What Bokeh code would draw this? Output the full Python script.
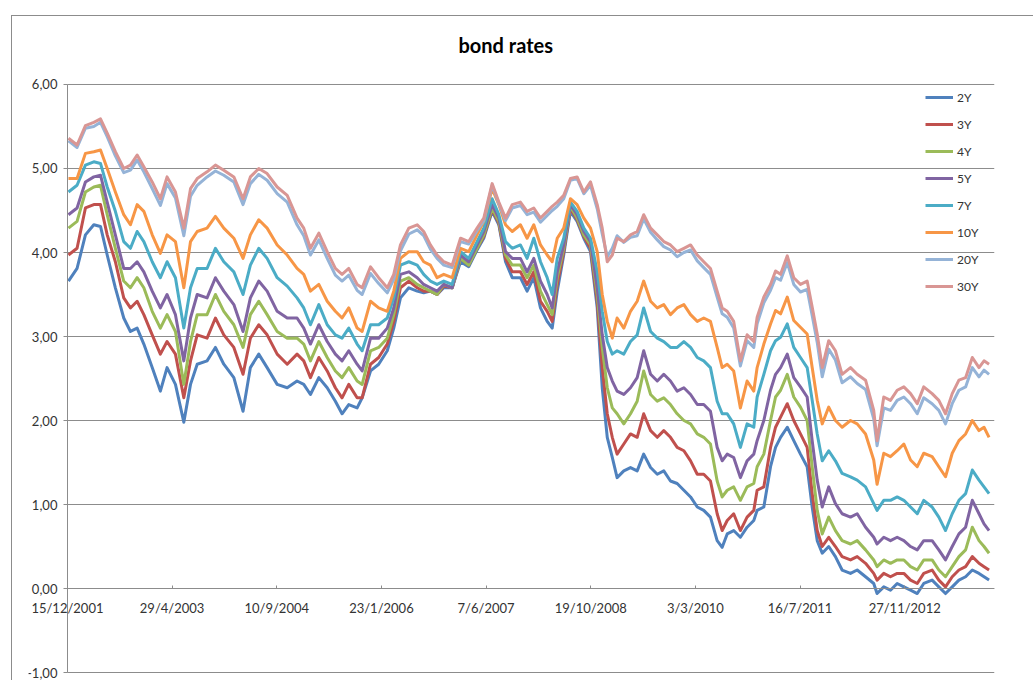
from bokeh.plotting import figure
from bokeh.models import FixedTicker, Legend, LegendItem, LabelSet, ColumnDataSource
from bokeh.core.properties import value
from bokeh.embed import file_html
from bokeh.resources import INLINE

# Category positions (calendar days counted from 15/12/2001)
days = [
    5, 46, 86, 126, 158, 190, 229, 269, 301, 333, 365, 405, 444, 476, 516, 556,
    588, 620, 667, 707, 747, 795, 839, 874, 914, 954, 1002, 1050,
    1097, 1129, 1161, 1201, 1241, 1280, 1312, 1344, 1384, 1408, 1448, 1487,
    1528, 1559, 1591, 1631, 1671, 1702, 1734, 1766, 1798, 1838, 1878, 1917,
    1957, 1989, 2029, 2061, 2093, 2125, 2164, 2196,
    2228, 2260, 2292, 2316, 2340, 2371, 2403, 2435, 2467, 2499, 2531, 2555,
    2579, 2603, 2626, 2658, 2690, 2722, 2753, 2786, 2818, 2849, 2881, 2913,
    2945, 2977, 3009, 3040, 3072, 3104, 3128, 3152, 3183, 3215, 3247, 3279,
    3295, 3327, 3359, 3383, 3407, 3439, 3470, 3502, 3534, 3558, 3582, 3606,
    3637, 3669, 3701, 3741, 3773, 3813, 3852, 3868, 3900, 3932, 3964, 3996,
    4028, 4060, 4091, 4131, 4163, 4195, 4227, 4259, 4291, 4323, 4355, 4379, 4403,
]

rate_2y = [
    3.66, 3.81, 4.21, 4.33, 4.31, 3.97, 3.58, 3.22, 3.06, 3.10, 2.91, 2.63, 2.35, 2.63,
    2.43, 1.98, 2.43, 2.67, 2.71, 2.87, 2.67, 2.51, 2.11, 2.63, 2.79, 2.63, 2.43, 2.39,
    2.47, 2.43, 2.31, 2.51, 2.39, 2.23, 2.08, 2.19, 2.15, 2.27, 2.59, 2.67, 2.83, 3.10,
    3.46, 3.58, 3.54, 3.52, 3.54, 3.50, 3.58, 3.58, 3.89, 3.83, 4.03, 4.17, 4.49, 4.33,
    3.89, 3.70, 3.70, 3.54,
    3.70, 3.34, 3.18, 3.10, 3.54, 3.97, 4.49, 4.37, 4.17, 4.01, 3.34, 2.39, 1.80, 1.56,
    1.32, 1.40, 1.44, 1.40, 1.60, 1.44, 1.36, 1.40, 1.28, 1.25, 1.17, 1.09, 0.97, 0.93,
    0.85, 0.57, 0.49, 0.65, 0.69, 0.61, 0.73, 0.81,
    0.93, 0.97, 1.45, 1.68, 1.80, 1.92, 1.76, 1.60, 1.45, 0.97, 0.57, 0.42, 0.50, 0.38,
    0.22, 0.18, 0.22, 0.14, 0.06, -0.06, 0.02, -0.02, 0.06, 0.02, -0.02, -0.06, 0.06,
    0.10, 0.02, -0.06, 0.02, 0.10, 0.14, 0.22, 0.18, 0.14, 0.10,
]

rate_3y = [
    3.97, 4.05, 4.53, 4.57, 4.57, 4.21, 3.89, 3.46, 3.34, 3.42, 3.26, 3.02, 2.79, 2.94,
    2.79, 2.27, 2.71, 3.02, 2.98, 3.22, 3.02, 2.87, 2.55, 2.98, 3.14, 3.02, 2.79, 2.67,
    2.79, 2.71, 2.51, 2.75, 2.59, 2.39, 2.27, 2.43, 2.27, 2.27, 2.67, 2.75, 2.91, 3.18,
    3.58, 3.66, 3.58, 3.54, 3.54, 3.50, 3.60, 3.58, 3.93, 3.85, 4.05, 4.19, 4.51, 4.35,
    3.93, 3.77, 3.77, 3.62,
    3.77, 3.42, 3.30, 3.18, 3.62, 4.01, 4.53, 4.39, 4.19, 4.05, 3.42, 2.63, 2.08, 1.80,
    1.60, 1.72, 1.84, 1.80, 2.08, 1.88, 1.80, 1.88, 1.80, 1.68, 1.64, 1.52, 1.36, 1.36,
    1.28, 0.89, 0.69, 0.81, 0.89, 0.69, 0.85, 0.93,
    1.17, 1.21, 1.68, 1.92, 2.04, 2.20, 2.00, 1.84, 1.68, 1.13, 0.69, 0.50, 0.61, 0.50,
    0.38, 0.34, 0.38, 0.30, 0.18, 0.10, 0.18, 0.14, 0.18, 0.18, 0.10, 0.06, 0.18,
    0.22, 0.10, 0.02, 0.14, 0.22, 0.26, 0.38, 0.30, 0.26, 0.22,
]

rate_4y = [
    4.29, 4.37, 4.72, 4.78, 4.80, 4.45, 4.05, 3.66, 3.58, 3.70, 3.58, 3.30, 3.10, 3.26,
    3.06, 2.43, 2.94, 3.26, 3.26, 3.50, 3.30, 3.14, 2.87, 3.26, 3.42, 3.26, 3.06, 2.98,
    2.98, 2.91, 2.71, 2.94, 2.75, 2.59, 2.51, 2.63, 2.47, 2.43, 2.83, 2.87, 2.98, 3.26,
    3.66, 3.70, 3.62, 3.58, 3.54, 3.50, 3.62, 3.58, 3.93, 3.85, 4.05, 4.21, 4.53, 4.37,
    3.97, 3.85, 3.85, 3.70,
    3.85, 3.54, 3.38, 3.26, 3.70, 4.05, 4.55, 4.41, 4.21, 4.09, 3.50, 2.87, 2.39, 2.15,
    2.08, 1.96, 2.08, 2.23, 2.59, 2.31, 2.23, 2.27, 2.19, 2.08, 2.00, 1.96, 1.84, 1.80,
    1.72, 1.28, 1.09, 1.17, 1.21, 1.05, 1.21, 1.25,
    1.45, 1.60, 2.00, 2.28, 2.36, 2.55, 2.28, 2.16, 2.00, 1.45, 0.93, 0.65, 0.85, 0.69,
    0.57, 0.53, 0.57, 0.46, 0.34, 0.26, 0.34, 0.30, 0.34, 0.34, 0.26, 0.22, 0.34,
    0.34, 0.22, 0.14, 0.26, 0.38, 0.46, 0.73, 0.57, 0.50, 0.42,
]

rate_5y = [
    4.45, 4.53, 4.84, 4.90, 4.92, 4.60, 4.21, 3.81, 3.81, 3.89, 3.77, 3.54, 3.34, 3.50,
    3.26, 2.71, 3.22, 3.50, 3.46, 3.70, 3.54, 3.38, 3.06, 3.46, 3.66, 3.54, 3.30, 3.22,
    3.22, 3.10, 2.91, 3.14, 2.94, 2.79, 2.71, 2.83, 2.67, 2.59, 2.98, 2.98, 3.10, 3.34,
    3.74, 3.77, 3.70, 3.62, 3.58, 3.54, 3.62, 3.58, 3.97, 3.89, 4.09, 4.25, 4.57, 4.41,
    4.01, 3.93, 3.93, 3.77,
    3.93, 3.66, 3.50, 3.34, 3.77, 4.09, 4.57, 4.45, 4.25, 4.13, 3.58, 3.02, 2.63, 2.47,
    2.35, 2.31, 2.39, 2.51, 2.83, 2.55, 2.47, 2.55, 2.47, 2.35, 2.39, 2.31, 2.19, 2.19,
    2.11, 1.68, 1.52, 1.60, 1.56, 1.32, 1.52, 1.60,
    1.76, 2.00, 2.36, 2.55, 2.63, 2.79, 2.51, 2.40, 2.28, 1.76, 1.29, 0.97, 1.21, 1.01,
    0.89, 0.85, 0.89, 0.73, 0.61, 0.53, 0.61, 0.57, 0.61, 0.57, 0.50, 0.46, 0.57,
    0.57, 0.46, 0.34, 0.50, 0.65, 0.73, 1.05, 0.89, 0.77, 0.69,
]

rate_7y = [
    4.72, 4.80, 5.04, 5.08, 5.06, 4.78, 4.49, 4.13, 4.05, 4.25, 4.13, 3.89, 3.70, 3.89,
    3.70, 3.10, 3.58, 3.81, 3.81, 4.05, 3.89, 3.77, 3.50, 3.85, 4.05, 3.93, 3.70, 3.60,
    3.46, 3.34, 3.14, 3.38, 3.14, 3.02, 2.98, 3.10, 2.91, 2.83, 3.14, 3.14, 3.22, 3.46,
    3.85, 3.89, 3.85, 3.74, 3.66, 3.62, 3.66, 3.62, 4.01, 3.93, 4.13, 4.29, 4.64, 4.45,
    4.13, 4.05, 4.09, 3.93,
    4.17, 3.89, 3.70, 3.50, 3.93, 4.17, 4.60, 4.49, 4.29, 4.17, 3.77, 3.30, 2.94, 2.79,
    2.83, 2.79, 2.94, 3.02, 3.34, 3.06, 2.98, 2.94, 2.87, 2.87, 2.94, 2.87, 2.75, 2.71,
    2.63, 2.23, 2.08, 2.08, 1.96, 1.68, 1.96, 1.92,
    2.28, 2.55, 2.83, 2.95, 2.99, 3.15, 2.87, 2.75, 2.63, 2.24, 1.84, 1.52, 1.64, 1.52,
    1.37, 1.33, 1.29, 1.21, 1.01, 0.93, 1.05, 1.05, 1.09, 1.05, 0.97, 0.89, 1.05,
    0.97, 0.85, 0.69, 0.89, 1.05, 1.13, 1.41, 1.29, 1.21, 1.13,
]

rate_10y = [
    4.88, 4.88, 5.18, 5.20, 5.22, 5.00, 4.72, 4.45, 4.33, 4.57, 4.49, 4.21, 3.99, 4.21,
    4.13, 3.58, 4.13, 4.25, 4.29, 4.43, 4.29, 4.17, 3.93, 4.21, 4.39, 4.29, 4.09, 3.97,
    3.81, 3.74, 3.54, 3.62, 3.42, 3.30, 3.22, 3.34, 3.10, 3.06, 3.42, 3.34, 3.30, 3.54,
    3.93, 4.01, 4.01, 3.89, 3.85, 3.70, 3.74, 3.70, 4.05, 4.01, 4.21, 4.37, 4.76, 4.57,
    4.33, 4.25, 4.33, 4.17,
    4.33, 4.09, 3.97, 3.89, 4.17, 4.29, 4.64, 4.57, 4.41, 4.29, 4.01, 3.50, 3.18, 2.98,
    3.22, 3.10, 3.30, 3.42, 3.66, 3.42, 3.34, 3.38, 3.26, 3.34, 3.38, 3.26, 3.18, 3.22,
    3.18, 2.87, 2.63, 2.67, 2.59, 2.15, 2.47, 2.35,
    2.63, 2.91, 3.15, 3.31, 3.27, 3.47, 3.19, 3.11, 3.03, 2.63, 2.24, 1.96, 2.16, 2.00,
    1.92, 2.00, 1.96, 1.84, 1.53, 1.24, 1.61, 1.57, 1.64, 1.72, 1.53, 1.45, 1.61,
    1.57, 1.45, 1.33, 1.61, 1.76, 1.84, 2.00, 1.88, 1.92, 1.80,
]

rate_20y = [
    5.33, 5.25, 5.48, 5.50, 5.55, 5.38, 5.15, 4.95, 4.98, 5.10, 4.96, 4.76, 4.56, 4.82,
    4.65, 4.20, 4.67, 4.80, 4.90, 4.97, 4.92, 4.84, 4.57, 4.82, 4.93, 4.86, 4.70, 4.60,
    4.33, 4.20, 3.97, 4.15, 3.93, 3.73, 3.66, 3.73, 3.55, 3.50, 3.75, 3.63, 3.52, 3.68,
    4.02, 4.22, 4.27, 4.20, 4.04, 3.93, 3.85, 3.82, 4.13, 4.10, 4.26, 4.38, 4.80, 4.58,
    4.38, 4.53, 4.56, 4.45,
    4.48, 4.36, 4.44, 4.50, 4.55, 4.64, 4.86, 4.88, 4.70, 4.80, 4.52, 4.22, 3.95, 4.05,
    4.20, 4.12, 4.18, 4.20, 4.40, 4.24, 4.15, 4.07, 4.03, 3.95, 4.00, 4.03, 3.90, 3.82,
    3.74, 3.47, 3.27, 3.23, 3.10, 2.65, 2.95, 2.87,
    3.15, 3.40, 3.55, 3.70, 3.67, 3.88, 3.62, 3.53, 3.56, 3.25, 2.93, 2.52, 2.85, 2.72,
    2.45, 2.52, 2.44, 2.37, 2.02, 1.70, 2.15, 2.12, 2.24, 2.28, 2.20, 2.08, 2.27,
    2.20, 2.12, 1.96, 2.20, 2.36, 2.40, 2.63, 2.52, 2.60, 2.55,
]

rate_30y = [
    5.36, 5.28, 5.51, 5.55, 5.59, 5.42, 5.20, 5.00, 5.04, 5.16, 5.02, 4.84, 4.64, 4.90,
    4.72, 4.29, 4.76, 4.88, 4.96, 5.04, 4.98, 4.90, 4.64, 4.90, 5.00, 4.94, 4.78, 4.68,
    4.41, 4.29, 4.05, 4.23, 4.01, 3.81, 3.74, 3.81, 3.62, 3.58, 3.83, 3.70, 3.58, 3.74,
    4.09, 4.29, 4.33, 4.25, 4.09, 3.97, 3.89, 3.85, 4.17, 4.13, 4.29, 4.41, 4.82, 4.60,
    4.41, 4.57, 4.60, 4.49,
    4.53, 4.41, 4.49, 4.55, 4.60, 4.68, 4.88, 4.90, 4.72, 4.84, 4.57, 4.29, 3.89, 3.97,
    4.17, 4.13, 4.21, 4.25, 4.45, 4.29, 4.21, 4.13, 4.09, 4.01, 4.05, 4.09, 3.97, 3.89,
    3.81, 3.54, 3.34, 3.30, 3.18, 2.71, 3.02, 2.94,
    3.23, 3.47, 3.62, 3.78, 3.74, 3.96, 3.70, 3.62, 3.66, 3.35, 3.03, 2.63, 2.95, 2.83,
    2.55, 2.63, 2.55, 2.48, 2.12, 1.76, 2.28, 2.24, 2.36, 2.40, 2.32, 2.20, 2.40,
    2.32, 2.24, 2.08, 2.32, 2.48, 2.51, 2.75, 2.63, 2.71, 2.67,
]

series_names = ["2Y", "3Y", "4Y", "5Y", "7Y", "10Y", "20Y", "30Y"]
series_values = [rate_2y, rate_3y, rate_4y, rate_5y, rate_7y, rate_10y, rate_20y, rate_30y]
series_colors = ["#4F81BD", "#C0504D", "#9BBB59", "#8064A2",
                 "#4BACC6", "#F79646", "#95B3D7", "#D99694"]

tick_days = [0, 500, 1000, 1500, 2000, 2500, 3000, 3500, 4000]
tick_labels = ["15/12/2001", "29/4/2003", "10/9/2004", "23/1/2006", "7/6/2007",
               "19/10/2008", "3/3/2010", "16/7/2011", "27/11/2012"]
y_ticks = [-1, 0, 1, 2, 3, 4, 5, 6]
y_tick_labels = ["-1,00", "0,00", "1,00", "2,00", "3,00", "4,00", "5,00", "6,00"]

for vals in series_values:
    assert len(vals) == len(days)

FONT = "Lato"
TEXT = "#333333"
GRID = "#8c8c8c"
X_END = 4429

# The frame reaches a little beyond the axes on the left, top and bottom so that
# the value labels and the first date label are drawn whole inside it.
p = figure(width=1022, height=665, x_range=(-186, X_END), y_range=(-1.107, 6.119),
           output_backend="svg", toolbar_location=None,
           min_border_left=16, min_border_right=40, min_border_top=58, min_border_bottom=0)
p.margin = (15, 0, 0, 11)
p.styles = {"border-top": "1px solid #8c8c8c", "border-left": "1px solid #8c8c8c"}
p.outline_line_color = None
p.background_fill_color = "white"
p.border_fill_color = "white"

p.title.text = "bond rates"
p.title.text_font = FONT
p.title.text_font_size = "20px"
p.title.text_font_style = "bold"
p.title.text_color = "black"
p.title.align = "left"
p.title.vertical_align = "top"
p.title.offset = 430
p.title.standoff = 32

# Horizontal category axis on the zero line; its date labels are set just below it
xa = p.xaxis[0]
xa.fixed_location = 0
xa.bounds = (0, X_END)
xa.ticker = FixedTicker(ticks=tick_days)
xa.major_label_overrides = {d: "" for d in tick_days}
xa.major_tick_in = 3
xa.major_tick_out = 0
xa.minor_tick_line_color = None
xa.axis_line_color = GRID
xa.major_tick_line_color = GRID

tick_src = ColumnDataSource(data=dict(x=tick_days, y=[0] * len(tick_days), text=tick_labels))
p.add_layout(LabelSet(x="x", y="y", text="text", source=tick_src,
                      y_offset=-11, text_align="center", text_baseline="top",
                      text_font=value(FONT), text_font_size=value("13px"),
                      text_color=TEXT))

# Value axis on the first category
ya = p.yaxis[0]
ya.fixed_location = 0
ya.bounds = (-1, 6)
ya.ticker = FixedTicker(ticks=y_ticks)
ya.major_label_overrides = {t: s for t, s in zip(y_ticks, y_tick_labels)}
ya.major_tick_in = 0
ya.major_tick_out = 4
ya.minor_tick_line_color = None
ya.axis_line_color = GRID
ya.major_tick_line_color = GRID
ya.major_label_standoff = 6
ya.major_label_text_font = FONT
ya.major_label_text_font_size = "13px"
ya.major_label_text_color = TEXT

p.xgrid.grid_line_color = None
p.ygrid.grid_line_color = None
# Horizontal gridlines from the value axis to the last category
p.segment(x0=[0] * len(y_ticks), x1=[X_END] * len(y_ticks), y0=y_ticks, y1=y_ticks,
          line_color=GRID, line_width=1, level="underlay")

items = []
for name, vals, color in zip(series_names, series_values, series_colors):
    r = p.line(days, vals, line_width=3, line_color=color, line_join="round")
    items.append(LegendItem(label=name, renderers=[r]))

# Legend rows: top row near the 6,00 line, right of the plotted data
legend = Legend(items=items, location=(897, 385), orientation="vertical",
                glyph_width=28, glyph_height=20, label_height=20, spacing=7,
                padding=0, margin=0, label_standoff=4,
                border_line_color=None, background_fill_alpha=0,
                label_text_font=FONT, label_text_font_size="12px",
                label_text_color=TEXT)
p.add_layout(legend)

open("out.html", "w").write(file_html(p, INLINE))
